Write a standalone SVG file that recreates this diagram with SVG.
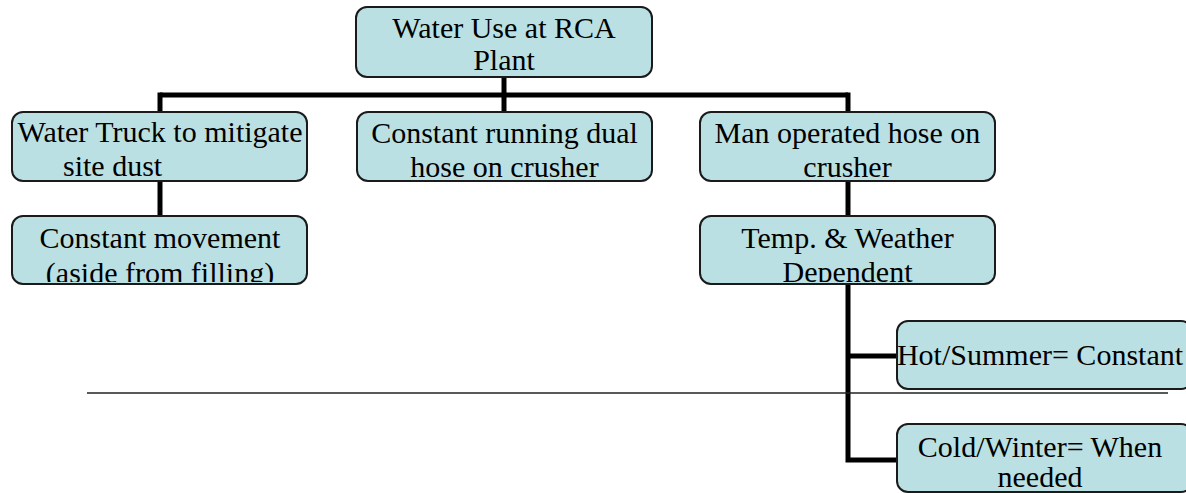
<svg xmlns="http://www.w3.org/2000/svg" width="1186" height="493" viewBox="0 0 1186 493">
<style>
.box{fill:#bbe0e3;stroke:#1a1a1a;stroke-width:2}
.t{font-family:"Liberation Serif","Times New Roman",serif;font-size:30px;fill:#000;text-anchor:middle}
.c{fill:none;stroke:#000;stroke-width:5}
</style>
<defs>
<clipPath id="clipA"><rect x="12" y="216" width="295" height="66"/></clipPath>
<clipPath id="clipB"><rect x="700" y="216" width="295" height="66"/></clipPath>
</defs>
<rect width="1186" height="493" fill="#fff"/>
<g id="connectors">
<path class="c" d="M160 95H848"/>
<path class="c" d="M504 77V112"/>
<path class="c" d="M160 92.5V112"/>
<path class="c" d="M848 92.5V112"/>
<path class="c" d="M160 181V216"/>
<path class="c" d="M848 181V216"/>
<path class="c" d="M848 284V460H897"/>
<path class="c" d="M848 356H897"/>
</g>
<line x1="87" y1="393" x2="1168" y2="393" stroke="#222" stroke-width="1.5"/>
<g id="root">
<rect class="box" x="356" y="7" width="296" height="70" rx="11"/>
<text class="t" x="504" y="38">Water Use at RCA</text>
<text class="t" x="504" y="70">Plant</text>
</g>
<g id="truck">
<rect class="box" x="12" y="112" width="295" height="69" rx="11"/>
<text class="t" x="160" y="142">Water Truck to mitigate</text>
<text class="t" x="63" y="176" style="text-anchor:start">site dust</text>
</g>
<g id="dual">
<rect class="box" x="357" y="112" width="295" height="69" rx="11"/>
<text class="t" x="504.5" y="143">Constant running dual</text>
<text class="t" x="504.5" y="177">hose on crusher</text>
</g>
<g id="man">
<rect class="box" x="700" y="112" width="295" height="69" rx="11"/>
<text class="t" x="847.5" y="143">Man operated hose on</text>
<text class="t" x="847.5" y="177">crusher</text>
</g>
<g id="movement">
<rect class="box" x="12" y="216" width="295" height="68" rx="11"/>
<g clip-path="url(#clipA)">
<text class="t" x="160" y="248">Constant movement</text>
<text class="t" x="160" y="283">(aside from filling)</text>
</g>
</g>
<g id="temp">
<rect class="box" x="700" y="216" width="295" height="68" rx="11"/>
<g clip-path="url(#clipB)">
<text class="t" x="847.5" y="248">Temp. &amp; Weather</text>
<text class="t" x="847.5" y="282">Dependent</text>
</g>
</g>
<g id="hot">
<rect class="box" x="897" y="321" width="295" height="68" rx="11"/>
<text class="t" x="1040" y="365">Hot/Summer= Constant</text>
</g>
<g id="cold">
<rect class="box" x="897" y="424" width="295" height="68" rx="11"/>
<text class="t" x="1040" y="457">Cold/Winter= When</text>
<text class="t" x="1040" y="487">needed</text>
</g>
</svg>
